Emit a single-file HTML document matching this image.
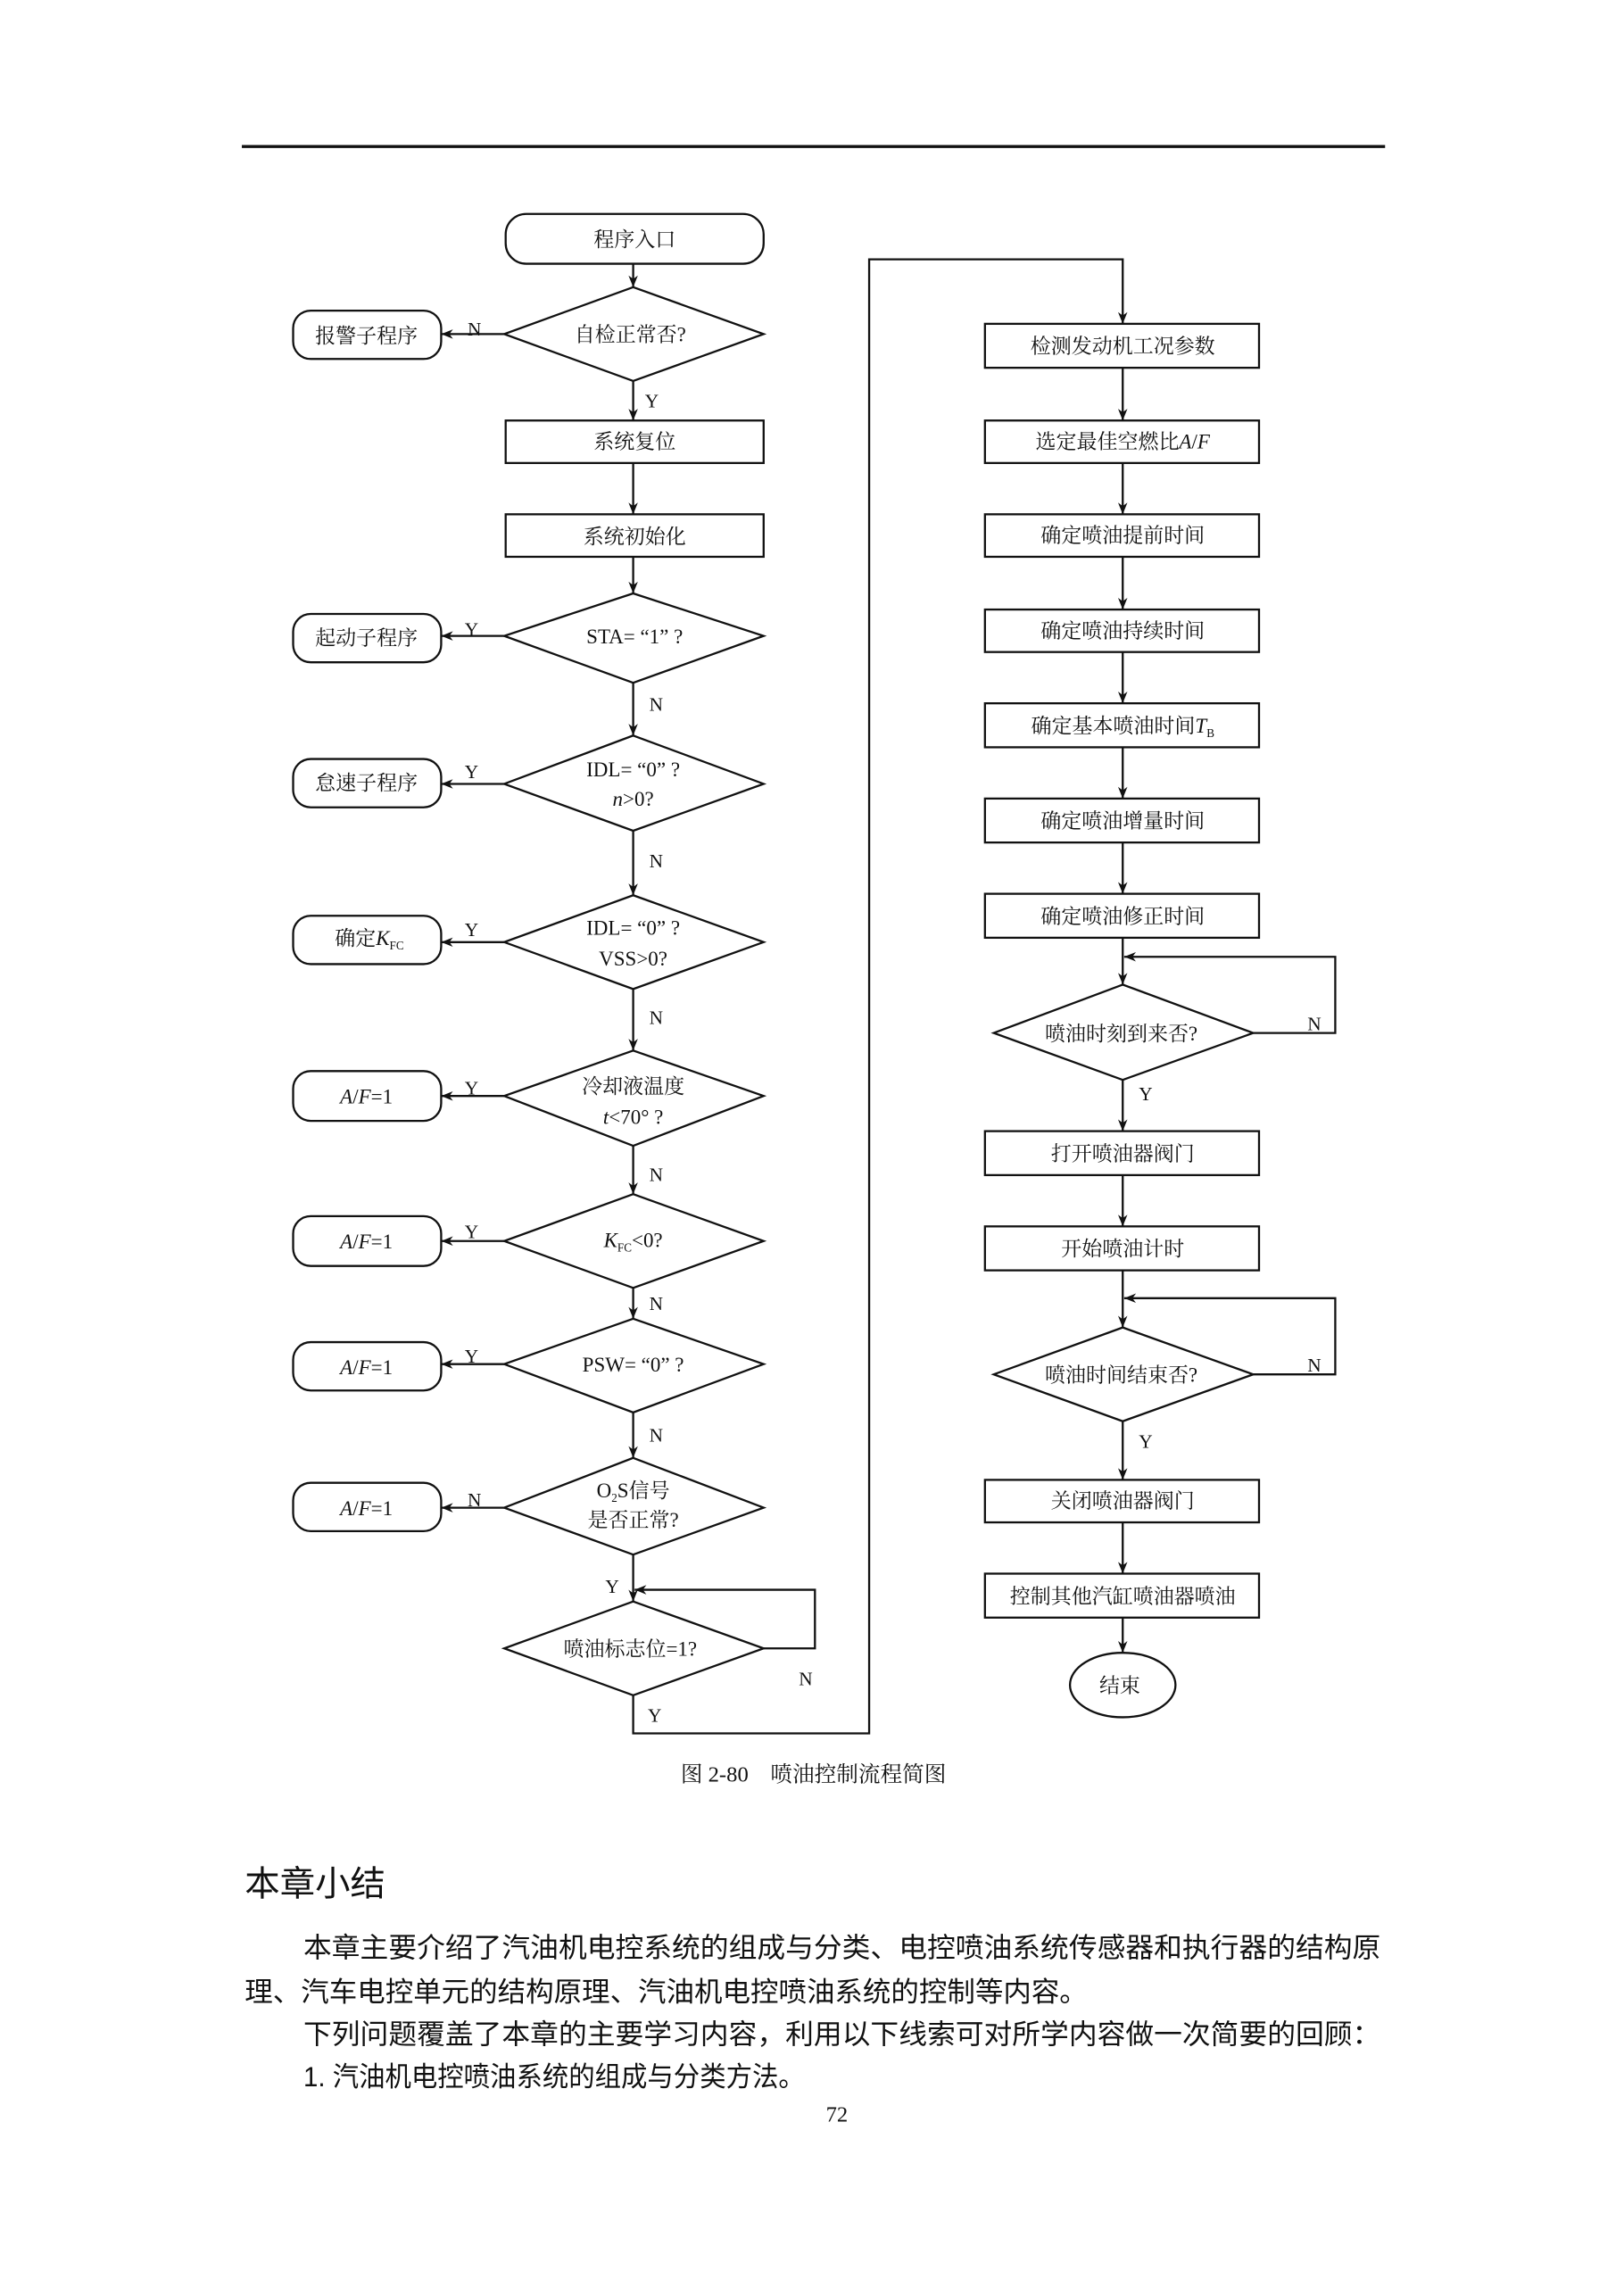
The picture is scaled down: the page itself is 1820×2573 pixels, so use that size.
<!DOCTYPE html>
<html><head><meta charset="utf-8">
<style>
html,body{margin:0;padding:0;background:#fff;}
svg{display:block;}
.n{font-family:"Liberation Serif","Noto Serif CJK SC",serif;font-size:14px;fill:#111;text-anchor:middle;}
.l{font-family:"Liberation Serif","Noto Serif CJK SC",serif;font-size:13px;fill:#111;}
.b{font-family:"Liberation Sans","Noto Sans CJK SC",sans-serif;fill:#111;}
</style></head><body>
<svg width="1820" height="2573" viewBox="0 0 1108 1567" preserveAspectRatio="none" xmlns="http://www.w3.org/2000/svg">
<defs><marker id="a" viewBox="0 0 10 10" refX="10" refY="5" markerWidth="8" markerHeight="8" markerUnits="userSpaceOnUse" orient="auto"><path d="M0,1 L10,5 L0,9 L3,5 z" fill="#111"/></marker></defs>
<rect width="1108" height="1567" fill="#fff"/>
<line x1="165" y1="100" x2="945" y2="100" stroke="#111" stroke-width="2"/>
<g stroke="#111" stroke-width="1.4" fill="none">
<rect x="345" y="146" width="176" height="34" rx="14"/>
<line x1="432" y1="180" x2="432" y2="196" marker-end="url(#a)"/>
<polygon points="432,196 521,228 432,260 344,228"/>
<line x1="344" y1="228" x2="301" y2="228" marker-end="url(#a)"/>
<rect x="200" y="212" width="101" height="33" rx="12"/>
<line x1="432" y1="260" x2="432" y2="287" marker-end="url(#a)"/>
<rect x="345" y="287" width="176" height="29"/>
<line x1="432" y1="316" x2="432" y2="351" marker-end="url(#a)"/>
<rect x="345" y="351" width="176" height="29"/>
<line x1="432" y1="380" x2="432" y2="405" marker-end="url(#a)"/>
<polygon points="432,405 521,434 432,466 344,434"/>
<line x1="344" y1="434" x2="301" y2="434" marker-end="url(#a)"/>
<rect x="200" y="419" width="101" height="33" rx="12"/>
<line x1="432" y1="466" x2="432" y2="502" marker-end="url(#a)"/>
<polygon points="432,502 521,535 432,567 344,535"/>
<line x1="344" y1="535" x2="301" y2="535" marker-end="url(#a)"/>
<rect x="200" y="518" width="101" height="33" rx="12"/>
<line x1="432" y1="567" x2="432" y2="611" marker-end="url(#a)"/>
<polygon points="432,611 521,643 432,675 344,643"/>
<line x1="344" y1="643" x2="301" y2="643" marker-end="url(#a)"/>
<rect x="200" y="625" width="101" height="33" rx="12"/>
<line x1="432" y1="675" x2="432" y2="717" marker-end="url(#a)"/>
<polygon points="432,717 521,748 432,782 344,748"/>
<line x1="344" y1="748" x2="301" y2="748" marker-end="url(#a)"/>
<rect x="200" y="731" width="101" height="34" rx="12"/>
<line x1="432" y1="782" x2="432" y2="815" marker-end="url(#a)"/>
<polygon points="432,815 521,847 432,879 344,847"/>
<line x1="344" y1="847" x2="301" y2="847" marker-end="url(#a)"/>
<rect x="200" y="830" width="101" height="34" rx="12"/>
<line x1="432" y1="879" x2="432" y2="900" marker-end="url(#a)"/>
<polygon points="432,900 521,931 432,964 344,931"/>
<line x1="344" y1="931" x2="301" y2="931" marker-end="url(#a)"/>
<rect x="200" y="916" width="101" height="33" rx="12"/>
<line x1="432" y1="964" x2="432" y2="995" marker-end="url(#a)"/>
<polygon points="432,995 521,1029 432,1061 344,1029"/>
<line x1="344" y1="1029" x2="301" y2="1029" marker-end="url(#a)"/>
<rect x="200" y="1012" width="101" height="33" rx="12"/>
<line x1="432" y1="1061" x2="432" y2="1093" marker-end="url(#a)"/>
<polygon points="432,1093 521,1125 432,1157 344,1125"/>
<polyline points="521,1125 556,1125 556,1085 433,1085" marker-end="url(#a)"/>
<polyline points="432,1157 432,1183 593,1183 593,177 766,177 766,221" marker-end="url(#a)"/>
<rect x="672" y="221" width="187" height="30"/>
<line x1="766" y1="251" x2="766" y2="287" marker-end="url(#a)"/>
<rect x="672" y="287" width="187" height="29"/>
<line x1="766" y1="316" x2="766" y2="351" marker-end="url(#a)"/>
<rect x="672" y="351" width="187" height="29"/>
<line x1="766" y1="380" x2="766" y2="416" marker-end="url(#a)"/>
<rect x="672" y="416" width="187" height="29"/>
<line x1="766" y1="445" x2="766" y2="480" marker-end="url(#a)"/>
<rect x="672" y="480" width="187" height="30"/>
<line x1="766" y1="510" x2="766" y2="545" marker-end="url(#a)"/>
<rect x="672" y="545" width="187" height="30"/>
<line x1="766" y1="575" x2="766" y2="610" marker-end="url(#a)"/>
<rect x="672" y="610" width="187" height="30"/>
<line x1="766" y1="640" x2="766" y2="672" marker-end="url(#a)"/>
<polyline points="855,705 911,705 911,653 767,653" marker-end="url(#a)"/>
<polygon points="766,672 855,705 766,737 678,705"/>
<line x1="766" y1="737" x2="766" y2="772" marker-end="url(#a)"/>
<rect x="672" y="772" width="187" height="30"/>
<line x1="766" y1="802" x2="766" y2="837" marker-end="url(#a)"/>
<rect x="672" y="837" width="187" height="30"/>
<line x1="766" y1="867" x2="766" y2="906" marker-end="url(#a)"/>
<polyline points="855,938 911,938 911,886 767,886" marker-end="url(#a)"/>
<polygon points="766,906 855,938 766,970 678,938"/>
<line x1="766" y1="970" x2="766" y2="1010" marker-end="url(#a)"/>
<rect x="672" y="1010" width="187" height="29"/>
<line x1="766" y1="1039" x2="766" y2="1074" marker-end="url(#a)"/>
<rect x="672" y="1074" width="187" height="30"/>
<line x1="766" y1="1104" x2="766" y2="1128" marker-end="url(#a)"/>
<ellipse cx="766" cy="1150" rx="36" ry="22"/>
</g>
<text class="n" x="433" y="168">程序入口</text>
<text class="n" x="430" y="233">自检正常否?</text>
<text class="n" x="250" y="234">报警子程序</text>
<text class="n" x="433" y="306">系统复位</text>
<text class="n" x="433" y="371">系统初始化</text>
<text class="n" x="433" y="439">STA= “1” ?</text>
<text class="n" x="250" y="440">起动子程序</text>
<text class="n" x="432" y="530">IDL= “0” ?</text>
<text class="n" x="432" y="550"><tspan font-style="italic">n</tspan>&gt;0?</text>
<text class="n" x="250" y="539">怠速子程序</text>
<text class="n" x="432" y="638">IDL= “0” ?</text>
<text class="n" x="432" y="659">VSS&gt;0?</text>
<text class="n" x="252" y="645">确定<tspan font-style="italic">K</tspan><tspan font-size="8" dy="3">FC</tspan></text>
<text class="n" x="432" y="746">冷却液温度</text>
<text class="n" x="432" y="767"><tspan font-style="italic">t</tspan>&lt;70° ?</text>
<text class="n" x="250" y="753"><tspan font-style="italic">A</tspan>/<tspan font-style="italic">F</tspan>=1</text>
<text class="n" x="432" y="851"><tspan font-style="italic">K</tspan><tspan font-size="8" dy="3">FC</tspan><tspan dy="-3">&lt;0?</tspan></text>
<text class="n" x="250" y="852"><tspan font-style="italic">A</tspan>/<tspan font-style="italic">F</tspan>=1</text>
<text class="n" x="432" y="936">PSW= “0” ?</text>
<text class="n" x="250" y="938"><tspan font-style="italic">A</tspan>/<tspan font-style="italic">F</tspan>=1</text>
<text class="n" x="432" y="1022">O<tspan font-size="8" dy="3">2</tspan><tspan dy="-3">S信号</tspan></text>
<text class="n" x="432" y="1042">是否正常?</text>
<text class="n" x="250" y="1034"><tspan font-style="italic">A</tspan>/<tspan font-style="italic">F</tspan>=1</text>
<text class="n" x="430" y="1130">喷油标志位=1?</text>
<text class="n" x="766" y="241">检测发动机工况参数</text>
<text class="n" x="766" y="306">选定最佳空燃比<tspan font-style="italic">A</tspan>/<tspan font-style="italic">F</tspan></text>
<text class="n" x="766" y="370">确定喷油提前时间</text>
<text class="n" x="766" y="435">确定喷油持续时间</text>
<text class="n" x="766" y="500">确定基本喷油时间<tspan font-style="italic">T</tspan><tspan font-size="8" dy="3">B</tspan></text>
<text class="n" x="766" y="565">确定喷油增量时间</text>
<text class="n" x="766" y="630">确定喷油修正时间</text>
<text class="n" x="765" y="710">喷油时刻到来否?</text>
<text class="n" x="766" y="792">打开喷油器阀门</text>
<text class="n" x="766" y="857">开始喷油计时</text>
<text class="n" x="765" y="943">喷油时间结束否?</text>
<text class="n" x="766" y="1029">关闭喷油器阀门</text>
<text class="n" x="766" y="1094">控制其他汽缸喷油器喷油</text>
<text class="n" x="764" y="1155">结束</text>
<g class="l">
<text x="319" y="229">N</text>
<text x="440" y="278">Y</text>
<text x="317" y="434">Y</text>
<text x="443" y="485">N</text>
<text x="317" y="531">Y</text>
<text x="443" y="592">N</text>
<text x="317" y="639">Y</text>
<text x="443" y="699">N</text>
<text x="317" y="747">Y</text>
<text x="443" y="806">N</text>
<text x="317" y="845">Y</text>
<text x="443" y="894">N</text>
<text x="317" y="930">Y</text>
<text x="443" y="984">N</text>
<text x="319" y="1028">N</text>
<text x="413" y="1087">Y</text>
<text x="545" y="1150">N</text>
<text x="442" y="1175">Y</text>
<text x="892" y="703">N</text>
<text x="777" y="751">Y</text>
<text x="892" y="936">N</text>
<text x="777" y="988">Y</text>
</g>
<text x="555" y="1216" font-size="15" text-anchor="middle" font-family="Liberation Serif,Noto Serif CJK SC,serif" fill="#111">图 2-80　喷油控制流程简图</text>
<text class="b" x="167" y="1294" font-size="24">本章小结</text>
<text class="b" x="207" y="1336" font-size="19" textLength="735" lengthAdjust="spacingAndGlyphs">本章主要介绍了汽油机电控系统的组成与分类、电控喷油系统传感器和执行器的结构原</text>
<text class="b" x="167" y="1366" font-size="19" textLength="575" lengthAdjust="spacingAndGlyphs">理、汽车电控单元的结构原理、汽油机电控喷油系统的控制等内容。</text>
<text class="b" x="207" y="1395" font-size="19" textLength="735" lengthAdjust="spacingAndGlyphs">下列问题覆盖了本章的主要学习内容，利用以下线索可对所学内容做一次简要的回顾：</text>
<text class="b" x="207" y="1424" font-size="19" textLength="342" lengthAdjust="spacingAndGlyphs">1. 汽油机电控喷油系统的组成与分类方法。</text>
<text x="571" y="1448" font-size="15" text-anchor="middle" font-family="Liberation Serif,serif" fill="#111">72</text>
</svg>
</body></html>
